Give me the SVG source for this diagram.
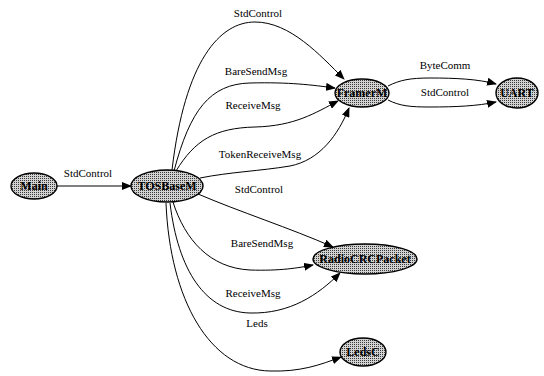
<svg xmlns="http://www.w3.org/2000/svg" width="544" height="376" viewBox="0 0 544 376">
<defs>
<pattern id="dots" width="2" height="2" patternUnits="userSpaceOnUse">
<rect width="2" height="2" fill="#d2d2d2"/>
<rect width="1" height="1" fill="#3a3a3a"/>
</pattern>
<marker id="arr" markerWidth="10" markerHeight="8" refX="9" refY="4" orient="auto" markerUnits="userSpaceOnUse">
<path d="M0,0 L10,4 L0,8 Z" fill="#000"/>
</marker>
</defs>
<style>
.node ellipse{fill:url(#dots);stroke:#000;stroke-width:1.4}
.node text{font-family:"Liberation Serif",serif;font-size:12px;font-weight:bold;text-anchor:middle;fill:#000}
.edge path{fill:none;stroke:#000;stroke-width:1;marker-end:url(#arr)}
.lbl{font-family:"Liberation Serif",serif;font-size:11px;text-anchor:middle;fill:#000}
</style>
<rect width="544" height="376" fill="#fff"/>
<g id="connectors" class="edge">
<path d="M57,186 L131,186"/>
<path d="M172,170 C185,60 220,22 255,22 C290,22 320,55 344,79"/>
<path d="M174,171 C190,110 210,84 250,83 C290,82 312,85 335,88"/>
<path d="M176,171 C195,140 215,128 255,127 C295,126 315,113 338,101"/>
<path d="M200,178 C230,172 260,171 290,166 C320,160 338,135 349,108"/>
<path d="M198,194 C240,212 290,228 333,247"/>
<path d="M173,202 C185,240 210,268 250,270 C280,271 298,268 313,265"/>
<path d="M170,203 C178,270 205,312 250,313 C290,314 318,295 340,273"/>
<path d="M166,203 C170,300 210,370 270,371 C300,372 320,365 341,357"/>
<path d="M388,86 C400,80 410,78 430,78 C455,78 478,79 496,84"/>
<path d="M388,100 C400,106 410,107 430,107 C455,107 478,106 496,102"/>
</g>
<g id="labels">
<text class="lbl" x="88" y="177">StdControl</text>
<text class="lbl" x="258" y="17">StdControl</text>
<text class="lbl" x="256" y="75">BareSendMsg</text>
<text class="lbl" x="253" y="109">ReceiveMsg</text>
<text class="lbl" x="260" y="158">TokenReceiveMsg</text>
<text class="lbl" x="259" y="193">StdControl</text>
<text class="lbl" x="262" y="247">BareSendMsg</text>
<text class="lbl" x="253" y="297">ReceiveMsg</text>
<text class="lbl" x="257" y="327">Leds</text>
<text class="lbl" x="445" y="69">ByteComm</text>
<text class="lbl" x="445" y="96">StdControl</text>
</g>
<g id="Main" class="node"><ellipse cx="34" cy="186" rx="23" ry="13"/><text x="34" y="190">Main</text></g>
<g id="TOSBaseM" class="node"><ellipse cx="167" cy="186" rx="36" ry="16"/><text x="167" y="190">TOSBaseM</text></g>
<g id="FramerM" class="node"><ellipse cx="362" cy="93" rx="27" ry="14"/><text x="362" y="97">FramerM</text></g>
<g id="UART" class="node"><ellipse cx="517" cy="93" rx="21" ry="15"/><text x="517" y="97">UART</text></g>
<g id="RadioCRCPacket" class="node"><ellipse cx="365" cy="259" rx="52" ry="15"/><text x="365" y="263">RadioCRCPacket</text></g>
<g id="LedsC" class="node"><ellipse cx="363" cy="352" rx="23" ry="14"/><text x="363" y="356">LedsC</text></g>
</svg>
